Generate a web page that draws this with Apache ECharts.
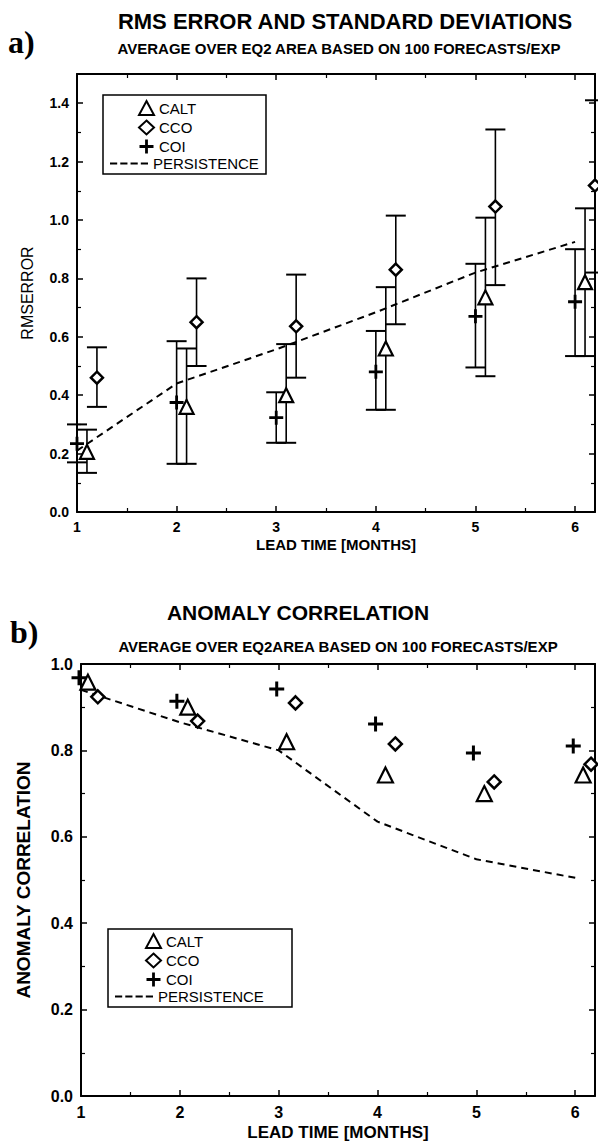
<!DOCTYPE html>
<html><head><meta charset="utf-8">
<script src="https://cdn.jsdelivr.net/npm/echarts/dist/echarts.min.js"></script>
<style>html,body{margin:0;padding:0;background:#fff}#c{width:598px;height:1143px}</style>
</head><body><div id="c"></div>
<script>
// ---------- Panel a: RMS error and standard deviations ----------
const leadTicks = [1, 2, 3, 4, 5, 6];
const caltX_a = [1.1, 2.1, 3.1, 4.1, 5.1, 6.1];
const caltRms = [0.206, 0.36, 0.40, 0.56, 0.735, 0.787];
const caltLow = [0.134, 0.165, 0.237, 0.35, 0.465, 0.534];
const caltHigh = [0.282, 0.56, 0.575, 0.77, 1.008, 1.04];
const ccoX_a = [1.2, 2.2, 3.2, 4.2, 5.2, 6.2];
const ccoRms = [0.46, 0.65, 0.636, 0.83, 1.046, 1.118];
const ccoLow = [0.36, 0.50, 0.46, 0.643, 0.777, 0.82];
const ccoHigh = [0.564, 0.80, 0.813, 1.015, 1.31, 1.41];
const coiX_a = [1.0, 2.0, 3.0, 4.0, 5.0, 6.0];
const coiRms = [0.234, 0.375, 0.323, 0.48, 0.67, 0.72];
const coiLow = [0.17, 0.165, 0.237, 0.35, 0.495, 0.534];
const coiHigh = [0.30, 0.585, 0.41, 0.62, 0.85, 0.90];
const persX_a = [1, 2, 3, 4, 5, 6];
const persRms = [0.21, 0.44, 0.557, 0.684, 0.82, 0.925];

// ---------- Panel b: anomaly correlation ----------
const caltX_b = [1.07, 2.08, 3.08, 4.08, 5.08, 6.08];
const caltAC = [0.958, 0.90, 0.82, 0.743, 0.70, 0.743];
const ccoX_b = [1.17, 2.18, 3.17, 4.18, 5.18, 6.16];
const ccoAC = [0.924, 0.868, 0.91, 0.815, 0.727, 0.768];
const coiX_b = [0.98, 1.97, 2.98, 3.98, 4.97, 5.98];
const coiAC = [0.968, 0.914, 0.942, 0.861, 0.794, 0.81];
const persX_b = [1, 2, 3, 4, 5, 6];
const persAC = [0.94, 0.865, 0.80, 0.635, 0.548, 0.505];

const FONT = 'Liberation Sans';
const zip = (xs, ys) => xs.map((x, i) => [x, ys[i]]);
const zip3 = (xs, a, b) => xs.map((x, i) => [x, a[i], b[i]]);
const PLUS = 'path://M4,0H6V4H10V6H6V10H4V6H0V4H4Z';
const DASHES = 'path://M0,0H7V2H0Z M10,0H17V2H10Z M20,0H27V2H20Z M30,0H37V2H30Z';

function errRender(params, api) {
  const x = api.value(0), lo = api.value(1), hi = api.value(2);
  const pl = api.coord([x, lo]), ph = api.coord([x, hi]);
  const w = 10;
  return {type: 'group', children: [
    {type: 'line', shape: {x1: pl[0], y1: pl[1], x2: ph[0], y2: ph[1]}, style: {stroke: '#000', lineWidth: 1.6}},
    {type: 'line', shape: {x1: pl[0] - w, y1: pl[1], x2: pl[0] + w, y2: pl[1]}, style: {stroke: '#000', lineWidth: 2}},
    {type: 'line', shape: {x1: ph[0] - w, y1: ph[1], x2: ph[0] + w, y2: ph[1]}, style: {stroke: '#000', lineWidth: 2}}
  ]};
}

function xAx(grid, pos, show, fs, name, gap) {
  return {
    gridIndex: grid, type: 'value', min: 1, max: 6.2, interval: 1, position: pos,
    axisLine: {show: true, onZero: false, lineStyle: {color: '#000', width: 2}},
    axisTick: {show: true, inside: true, length: 6, lineStyle: {color: '#000', width: 1.5}},
    minorTick: {show: true, splitNumber: 2, length: 4, lineStyle: {color: '#000', width: 1.2}},
    splitLine: {show: false},
    axisLabel: {show: show, color: '#000', fontFamily: FONT, fontWeight: 'bold', fontSize: fs, margin: 8,
      formatter: v => (Math.abs(v - Math.round(v)) < 1e-6 && leadTicks.includes(Math.round(v))) ? String(Math.round(v)) : ''},
    name: show ? name : '', nameLocation: 'middle', nameGap: gap,
    nameTextStyle: {color: '#000', fontFamily: FONT, fontWeight: 'bold', fontSize: fs + 1}
  };
}
function yAx(grid, pos, show, max, fs, name, nameStyle, gap) {
  return {
    gridIndex: grid, type: 'value', min: 0, max: max, interval: 0.2, position: pos,
    axisLine: {show: true, onZero: false, lineStyle: {color: '#000', width: 2}},
    axisTick: {show: true, inside: true, length: 6, lineStyle: {color: '#000', width: 1.5}},
    minorTick: {show: true, splitNumber: 2, length: 4, lineStyle: {color: '#000', width: 1.2}},
    splitLine: {show: false},
    axisLabel: {show: show, color: '#000', fontFamily: FONT, fontWeight: 'bold', fontSize: fs, margin: 8,
      formatter: v => (Math.abs(v * 5 - Math.round(v * 5)) < 1e-6) ? v.toFixed(1) : ''},
    name: show ? name : '', nameLocation: 'middle', nameGap: gap, nameRotate: 90,
    nameTextStyle: Object.assign({color: '#000', fontFamily: FONT}, nameStyle)
  };
}

const triStyle = {color: '#fff', borderColor: '#000', borderWidth: 2.2, opacity: 1};
const diaStyle = {color: '#fff', borderColor: '#000', borderWidth: 2.5, opacity: 1};
const plusStyle = {color: '#000', opacity: 1};
const persLine = {color: '#000', width: 2, type: [7, 5]};
const legText = {color: '#000', fontFamily: FONT, fontSize: 15};

function symLegend(left, top) {
  return {data: ['CALT', 'CCO', 'COI'], orient: 'vertical', left: left, top: top, itemWidth: 15, itemHeight: 14,
    itemGap: 3.5, padding: 0, textStyle: legText, selectedMode: false};
}
function persLegend(left, top) {
  return {data: [{name: 'PERSISTENCE', icon: DASHES, itemStyle: {color: '#000', borderWidth: 0, opacity: 1}}],
    orient: 'vertical', left: left, top: top, itemWidth: 38, itemHeight: 14, padding: 0, itemGap: 0,
    textStyle: legText, selectedMode: false};
}

const option = {
  animation: false,
  backgroundColor: '#fff',
  grid: [
    {left: 77, top: 74, width: 518, height: 438, containLabel: false},
    {left: 81, top: 664, width: 516, height: 432, containLabel: false}
  ],
  xAxis: [
    xAx(0, 'bottom', true, 14, 'LEAD TIME [MONTHS]', 25),
    xAx(0, 'top', false, 14, '', 0),
    xAx(1, 'bottom', true, 16, 'LEAD TIME [MONTHS]', 28),
    xAx(1, 'top', false, 16, '', 0)
  ],
  yAxis: [
    yAx(0, 'left', true, 1.5, 14, 'RMSERROR', {fontSize: 16}, 42),
    yAx(0, 'right', false, 1.5, 14, '', {}, 0),
    yAx(1, 'left', true, 1.0, 16, 'ANOMALY CORRELATION', {fontSize: 19, fontWeight: 'bold'}, 48),
    yAx(1, 'right', false, 1.0, 16, '', {}, 0)
  ],
  legend: [
    symLegend(138, 100),
    persLegend(110, 156),
    symLegend(145, 933),
    persLegend(115, 989)
  ],
  graphic: [
    {type: 'text', x: 8, y: 42, style: {text: 'a)', font: 'bold 32px "Liberation Serif"', fill: '#000', align: 'left', verticalAlign: 'middle'}},
    {type: 'text', x: 345, y: 21, style: {text: 'RMS ERROR AND STANDARD DEVIATIONS', font: 'bold 22px "Liberation Sans"', fill: '#000', align: 'center', verticalAlign: 'middle'}},
    {type: 'text', x: 339, y: 48, style: {text: 'AVERAGE OVER EQ2 AREA BASED ON 100 FORECASTS/EXP', font: 'bold 15px "Liberation Sans"', fill: '#000', align: 'center', verticalAlign: 'middle'}},
    {type: 'text', x: 10, y: 632, style: {text: 'b)', font: 'bold 32px "Liberation Serif"', fill: '#000', align: 'left', verticalAlign: 'middle'}},
    {type: 'text', x: 298, y: 612, style: {text: 'ANOMALY CORRELATION', font: 'bold 21px "Liberation Sans"', fill: '#000', align: 'center', verticalAlign: 'middle'}},
    {type: 'text', x: 338, y: 646, style: {text: 'AVERAGE OVER EQ2AREA BASED ON 100 FORECASTS/EXP', font: 'bold 15px "Liberation Sans"', fill: '#000', align: 'center', verticalAlign: 'middle'}},
    {type: 'rect', shape: {x: 103, y: 95, width: 163, height: 79}, style: {fill: 'none', stroke: '#000', lineWidth: 1.5}},
    {type: 'rect', shape: {x: 108, y: 929, width: 184, height: 78}, style: {fill: 'none', stroke: '#000', lineWidth: 1.5}}
  ],
  series: [
    {type: 'custom', name: 'CALT err', xAxisIndex: 0, yAxisIndex: 0, renderItem: errRender, data: zip3(caltX_a, caltLow, caltHigh), z: 1, silent: true},
    {type: 'custom', name: 'CCO err', xAxisIndex: 0, yAxisIndex: 0, renderItem: errRender, data: zip3(ccoX_a, ccoLow, ccoHigh), z: 1, silent: true},
    {type: 'custom', name: 'COI err', xAxisIndex: 0, yAxisIndex: 0, renderItem: errRender, data: zip3(coiX_a, coiLow, coiHigh), z: 1, silent: true},
    {type: 'line', name: 'PERSISTENCE', xAxisIndex: 0, yAxisIndex: 0, data: zip(persX_a, persRms), symbol: 'none', lineStyle: persLine, itemStyle: {color: '#000'}, z: 2},
    {type: 'scatter', name: 'CALT', xAxisIndex: 0, yAxisIndex: 0, data: zip(caltX_a, caltRms), symbol: 'triangle', symbolSize: 14, itemStyle: triStyle, z: 3, clip: false},
    {type: 'scatter', name: 'CCO', xAxisIndex: 0, yAxisIndex: 0, data: zip(ccoX_a, ccoRms), symbol: 'diamond', symbolSize: 12, itemStyle: diaStyle, z: 3, clip: false},
    {type: 'scatter', name: 'COI', xAxisIndex: 0, yAxisIndex: 0, data: zip(coiX_a, coiRms), symbol: PLUS, symbolSize: 14, itemStyle: plusStyle, z: 3, clip: false},
    {type: 'line', name: 'PERSISTENCE', xAxisIndex: 2, yAxisIndex: 2, data: zip(persX_b, persAC), symbol: 'none', lineStyle: persLine, itemStyle: {color: '#000'}, z: 2},
    {type: 'scatter', name: 'CALT', xAxisIndex: 2, yAxisIndex: 2, data: zip(caltX_b, caltAC), symbol: 'triangle', symbolSize: 15, itemStyle: triStyle, z: 3, clip: false},
    {type: 'scatter', name: 'CCO', xAxisIndex: 2, yAxisIndex: 2, data: zip(ccoX_b, ccoAC), symbol: 'diamond', symbolSize: 13, itemStyle: diaStyle, z: 3, clip: false},
    {type: 'scatter', name: 'COI', xAxisIndex: 2, yAxisIndex: 2, data: zip(coiX_b, coiAC), symbol: PLUS, symbolSize: 15, itemStyle: plusStyle, z: 3, clip: false}
  ]
};
const chart = echarts.init(document.getElementById('c'), null, {renderer: 'svg'});
chart.setOption(option);
</script></body></html>
